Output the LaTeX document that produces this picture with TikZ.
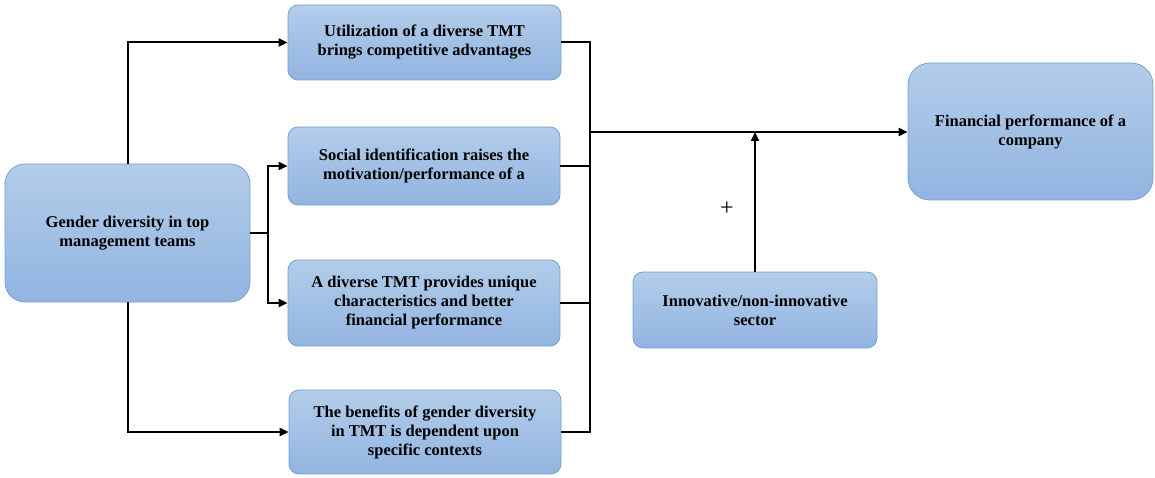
\documentclass[tikz,border=0pt]{standalone}
\usepackage{fontspec}
\setmainfont{Liberation Serif}
\usetikzlibrary{arrows.meta}
\definecolor{boxtop}{HTML}{B3CDEA}
\definecolor{boxbot}{HTML}{92B4E0}
\definecolor{boxline}{HTML}{74A2D8}
\tikzset{
  box/.style={draw=boxline, line width=0.8pt, top color=boxtop, bottom color=boxbot,
    rounded corners=10pt, align=center, inner sep=2pt,
    font=\fontsize{16.5}{19}\selectfont\bfseries},
  conn/.style={line width=2pt, black},
  arr/.style={conn, -{Triangle[length=9pt,width=8pt]}},
}
\begin{document}
\begin{tikzpicture}[x=1pt,y=-1pt]
\useasboundingbox (0,0) rectangle (1155,478);
\node[box, rounded corners=20pt, minimum width=245pt, minimum height=138pt] (g) at (127.5,233) {Gender diversity in top\\management teams};
\node[box, minimum width=273pt, minimum height=75pt] (b1) at (424.5,42.5) {Utilization of a diverse TMT\\brings competitive advantages};
\node[box, minimum width=272pt, minimum height=78pt] (b2) at (424,166) {Social identification raises the\\motivation/performance of a};
\node[box, minimum width=272pt, minimum height=86pt] (b3) at (424,303) {A diverse TMT provides unique\\characteristics and better\\financial performance};
\node[box, minimum width=272pt, minimum height=84pt] (b4) at (425,432) {The benefits of gender diversity\\in TMT is dependent upon\\specific contexts};
\node[box, rounded corners=22pt, minimum width=245pt, minimum height=137pt] (f) at (1030.5,131.5) {Financial performance of a\\company};
\node[box, minimum width=244pt, minimum height=76pt] (i) at (755,310) {Innovative/non-innovative\\sector};
\node[font=\fontsize{24}{26}\selectfont] (plus) at (727,209) {+};
\coordinate (j) at (590,132);
\coordinate (k) at (268,233);
% left connectors
\draw[arr] (g.north) |- (b1.west);
\draw[arr] (g.south) |- (b4.west);
\draw[conn] (g.east) -- (k);
\draw[arr] (k) |- (b2.west);
\draw[arr] (k) |- (b3.west);
% right connectors
\draw[conn] (b1.east) -| (j);
\draw[conn] (b2.east) -- (b2.east -| j);
\draw[conn] (b3.east) -- (b3.east -| j);
\draw[conn, line width=2.5pt] (b4.east) -| (j);
\draw[arr, line width=2.5pt] (j) -- (j -| f.west);
\draw[arr] (i.north) -- (i.north |- j);
\end{tikzpicture}
\end{document}
